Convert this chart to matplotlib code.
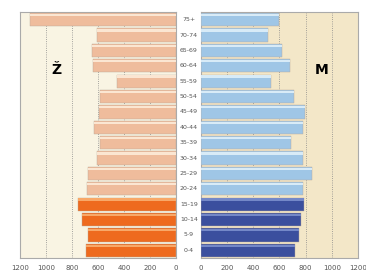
import matplotlib.pyplot as plt
import numpy as np

# starostne skupine (od spodaj navzgor)
skupine = ['0-4', '5-9', '10-14', '15-19', '20-24', '25-29', '30-34', '35-39',
           '40-44', '45-49', '50-54', '55-59', '60-64', '65-69', '70-74', '75+']
zenske = [692, 677, 723, 754, 685, 677, 608, 585,
          630, 592, 585, 454, 640, 646, 608, 1120]
moski = [722, 753, 768, 790, 783, 852, 783, 692,
         783, 798, 715, 532, 677, 616, 510, 593]
ticki = [0, 200, 400, 600, 800, 1000, 1200]

# spodnje 4 skupine temnejse
z_barve = ['#ee6a1e'] * 4 + ['#efbc9c'] * 12
m_barve = ['#3b4f9e'] * 4 + ['#9fc6e6'] * 12
z_sij = ['#f8a868'] * 4 + ['#fbe6d2'] * 12
m_sij = ['#7488c8'] * 4 + ['#d8ebf7'] * 12

fig = plt.figure(figsize=(3.66, 2.79), dpi=100)
ax_z = fig.add_axes([0.0546, 0.0753, 0.426, 0.8817])
ax_m = fig.add_axes([0.549, 0.0753, 0.429, 0.8817])

y = np.arange(len(skupine))

for ax, vrednosti, barve, sij in [(ax_z, zenske, z_barve, z_sij),
                                  (ax_m, moski, m_barve, m_sij)]:
    ax.barh(y, vrednosti, height=0.86, color=barve, edgecolor='#b8a898', linewidth=0.3, zorder=3)
    # svetlejsi zgornji rob za 3D videz
    ax.barh(y + 0.3, vrednosti, height=0.14, color=sij, linewidth=0, zorder=4)
    ax.set_ylim(-0.5, len(skupine) - 0.5)
    ax.set_xlim(0, 1200)
    ax.set_xticks(ticki)
    ax.set_xticklabels([str(t) for t in ticki], fontsize=5, color='#555555')
    ax.set_yticks([])
    ax.tick_params(axis='x', length=0, pad=5)
    ax.grid(axis='x', linestyle=':', color='#888888', linewidth=0.6, zorder=0)
    for s in ax.spines.values():
        s.set_color('#aaaaaa')
        s.set_linewidth(0.8)

ax_z.invert_xaxis()
ax_z.set_facecolor('#f9f4e3')
ax_m.set_facecolor('#f3e7c8')

# oznake starostnih skupin na sredini
for i, s in enumerate(skupine):
    fig.text(0.516, 0.0753 + 0.8817 * (i + 0.5) / len(skupine), s,
             fontsize=4.5, color='#555555', ha='center', va='center')

ax_z.text(0.237, 0.765, 'Ž', transform=ax_z.transAxes, fontsize=10, fontweight='bold', ha='center', va='center')
ax_m.text(0.77, 0.765, 'M', transform=ax_m.transAxes, fontsize=10, fontweight='bold', ha='center', va='center')

fig.savefig('out.png', dpi=100)
